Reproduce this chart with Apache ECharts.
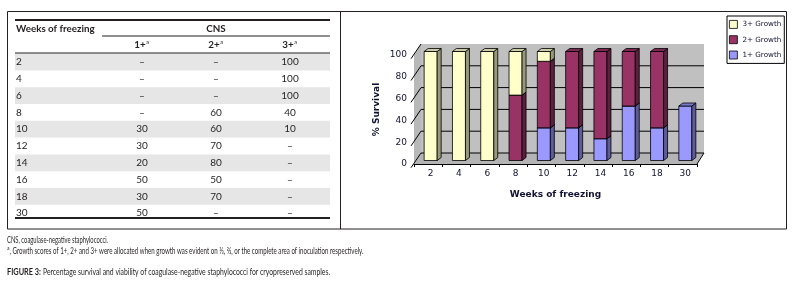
<!DOCTYPE html>
<html>
<head>
<meta charset="utf-8">
<script src="https://cdn.jsdelivr.net/npm/echarts@6/dist/echarts.min.js"></script>
<style>
html,body{margin:0;padding:0;background:#fff}
#main{width:794px;height:284px}
</style>
</head>
<body>
<div id="main"></div>
<script>
// weeks of freezing (table rows and chart categories)
var weeks = ['2', '4', '6', '8', '10', '12', '14', '16', '18', '30'];
// table columns, null is shown as a dash
var tab1 = [null, null, null, null, 30, 30, 20, 50, 30, 50];
var tab2 = [null, null, null, 60, 60, 70, 80, 50, 70, null];
var tab3 = [100, 100, 100, 40, 10, null, null, null, null, null];
// values as drawn in the bar chart
var g1 = [0, 0, 0, 0, 30, 30, 20, 50, 30, 50];
var g2 = [0, 0, 0, 60, 61, 70, 80, 50, 70, 0];
var g3 = [100, 100, 100, 40, 9, 0, 0, 0, 0, 0];
var yTicks = [0, 20, 40, 60, 80, 100];
var seriesNames = ['1+ Growth', '2+ Growth', '3+ Growth'];

var TF = 'Lato, "Open Sans", sans-serif';
var CF = '"DejaVu Sans", Verdana, sans-serif';
var ink = '#231f20';
var WD = [7, -11];   // wall depth
var BD = [4, -3];    // bar depth
var BO = [2.5, -3.5]; // bar offset from front plane

var ctx = document.createElement('canvas').getContext('2d');
function textW(font, s) { ctx.font = font; return ctx.measureText(s).width; }

function txt(s, x, y, align, size, bold, extra) {
    var el = {
        type: 'text', x: x, y: y, silent: true,
        style: {text: s, fill: ink, align: align, verticalAlign: 'middle',
                fontFamily: TF, fontSize: size, fontWeight: bold ? 'bold' : 'normal'}
    };
    if (extra) for (var k in extra) el[k] = extra[k];
    return el;
}

var gr = [];
// outer frame and divider
gr.push({type: 'rect', shape: {x: 7.5, y: 11.5, width: 779, height: 217.5}, style: {fill: 'none', stroke: ink, lineWidth: 1}});
gr.push({type: 'line', shape: {x1: 340.5, y1: 11.5, x2: 340.5, y2: 229}, style: {stroke: ink, lineWidth: 1}});

// table
var colX = [142, 216, 290];
var rowY0 = 62, rowH = 16.8;
for (var r = 0; r < weeks.length; r++) {
    var cy = rowY0 + r * rowH;
    if (r % 2 === 0) gr.push({type: 'rect', shape: {x: 15, y: cy - rowH / 2, width: 315, height: rowH}, style: {fill: '#e6e6e7'}});
}
gr.push({type: 'rect', shape: {x: 15, y: 19, width: 315, height: 2}, style: {fill: ink}});
gr.push({type: 'rect', shape: {x: 102, y: 35.5, width: 228, height: 1}, style: {fill: ink}});
gr.push({type: 'rect', shape: {x: 15, y: 52.5, width: 315, height: 1}, style: {fill: ink}});
gr.push({type: 'rect', shape: {x: 15, y: 217, width: 315, height: 2}, style: {fill: ink}});
gr.push(txt('Weeks of freezing', 16, 29, 'left', 9.8, true));
gr.push(txt('CNS', 216, 29, 'center', 9.8, true));
['1+', '2+', '3+'].forEach(function (h, c) {
    var w = textW('bold 9.8px ' + TF, h);
    gr.push(txt(h, colX[c] - 2, 45, 'center', 9.8, true));
    gr.push(txt('a', colX[c] - 2 + w / 2 + 0.5, 42.5, 'left', 5.5, false));
});
for (var r2 = 0; r2 < weeks.length; r2++) {
    var yy = rowY0 + r2 * rowH;
    gr.push(txt(weeks[r2], 16, yy, 'left', 10, false));
    [tab1, tab2, tab3].forEach(function (col, c) {
        gr.push(txt(col[r2] == null ? '–' : String(col[r2]), colX[c], yy, 'center', 10, false));
    });
}

// footnotes and caption, condensed to fit their widths
function fitted(s, x, y, size, bold, width) {
    var f = (bold ? 'bold ' : '') + size + 'px ' + TF;
    var sc = width / textW(f, s);
    return txt(s, x, y, 'left', size, bold, {scaleX: sc});
}
var fn1 = 'CNS, coagulase-negative staphylococci.';
var fn2 = ', Growth scores of 1+, 2+ and 3+ were allocated when growth was evident on ⅓, ⅔, or the complete area of inoculation respectively.';
gr.push(fitted(fn1, 7, 240, 8.5, false, 101));
gr.push(txt('a', 7, 248.5, 'left', 5, false));
gr.push(fitted(fn2, 9.5, 251, 8.5, false, 354));
var capB = 'FIGURE 3:';
var capR = 'Percentage survival and viability of coagulase-negative staphylococci for cryopreserved samples.';
gr.push(fitted(capB, 7, 272, 9.5, true, 34));
gr.push(fitted(capR, 43, 272, 9.5, false, 287));

function renderWalls(params, api) {
    var cs = params.coordSys;
    var L = cs.x, T = cs.y, R = cs.x + cs.width, B = cs.y + cs.height;
    var dx = WD[0], dy = WD[1];
    var ch = [];
    ch.push({type: 'polygon', shape: {points: [[L, B], [L + dx, B + dy], [L + dx, T + dy], [L, T]]}, style: {fill: '#b8b8b8'}});
    ch.push({type: 'rect', shape: {x: L + dx, y: T + dy, width: R - L, height: B - T}, style: {fill: '#c0c0c0'}});
    ch.push({type: 'polygon', shape: {points: [[L, B], [R, B], [R + dx, B + dy], [L + dx, B + dy]]}, style: {fill: '#b4b4b4'}});
    yTicks.forEach(function (v) {
        var y = api.coord([0, v])[1];
        if (v < 100) ch.push({type: 'line', shape: {x1: L + dx, y1: y + dy, x2: R + dx, y2: y + dy}, style: {stroke: '#000', lineWidth: 1}});
        ch.push({type: 'line', shape: {x1: L - 3, y1: y + 3.7, x2: L + dx, y2: y + dy}, style: {stroke: '#000', lineWidth: 1}});
    });
    ch.push({type: 'line', shape: {x1: R, y1: B, x2: R + dx, y2: B + dy}, style: {stroke: '#000', lineWidth: 1}});
    return {type: 'group', children: ch};
}

function makeBar(name, lo, hi, cols, z) {
    return {
        type: 'custom', name: name, z: z,
        itemStyle: {color: cols[0]},
        encode: {x: 0, y: [1, 2]},
        data: weeks.map(function (w, i) { return [i, lo[i], hi[i]]; }),
        renderItem: function (params, api) {
            var i = api.value(0), a = api.value(1), b = api.value(2);
            if (!(b > a)) return null;
            var p0 = api.coord([i, a]), p1 = api.coord([i, b]);
            var w = api.size([1, 0])[0] * 0.46;
            var x = p0[0] - w / 2 + BO[0], yb = p0[1] + BO[1], yt = p1[1] + BO[1];
            var dx = BD[0], dy = BD[1];
            var st = {stroke: '#000', lineWidth: 0.8};
            return {type: 'group', children: [
                {type: 'rect', shape: {x: x, y: yt, width: w, height: yb - yt}, style: {fill: cols[0], stroke: st.stroke, lineWidth: st.lineWidth}},
                {type: 'polygon', shape: {points: [[x + w, yt], [x + w + dx, yt + dy], [x + w + dx, yb + dy], [x + w, yb]]}, style: {fill: cols[1], stroke: st.stroke, lineWidth: st.lineWidth}},
                {type: 'polygon', shape: {points: [[x, yt], [x + dx, yt + dy], [x + w + dx, yt + dy], [x + w, yt]]}, style: {fill: cols[2], stroke: st.stroke, lineWidth: st.lineWidth}}
            ]};
        }
    };
}

var top2 = g1.map(function (v, i) { return v + g2[i]; });
var top3 = top2.map(function (v, i) { return v + g3[i]; });
var zeros = weeks.map(function () { return 0; });

var chart = echarts.init(document.getElementById('main'));
chart.setOption({
    animation: false,
    backgroundColor: '#fff',
    grid: {left: 414, top: 55, width: 283, height: 109},
    legend: {
        orient: 'vertical', left: 727, top: 16, selectedMode: false,
        data: ['3+ Growth', '2+ Growth', '1+ Growth'],
        icon: 'rect', itemWidth: 8, itemHeight: 8, itemGap: 6.5,
        padding: [4, 3, 4, 2], borderColor: '#000', borderWidth: 1,
        itemStyle: {borderColor: '#000', borderWidth: 0.8},
        textStyle: {fontFamily: CF, fontSize: 7.2, color: '#111133'}
    },
    xAxis: {
        type: 'category', data: weeks, z: 10,
        name: 'Weeks of freezing', nameLocation: 'middle', nameGap: 26,
        nameTextStyle: {fontFamily: CF, fontSize: 9, fontWeight: 'bold', color: '#111133'},
        axisLine: {lineStyle: {color: '#000', width: 1}},
        axisTick: {show: true, length: 3, lineStyle: {color: '#000'}},
        axisLabel: {fontFamily: CF, fontSize: 9, color: '#111133', margin: 5, padding: [0, 0, 0, 5]}
    },
    yAxis: {
        type: 'value', min: 0, max: 100, interval: 20,
        name: '% Survival', nameLocation: 'middle', nameGap: 33,
        nameTextStyle: {fontFamily: CF, fontSize: 9, fontWeight: 'bold', color: '#111133'},
        axisLine: {show: false}, axisTick: {show: false}, splitLine: {show: false},
        axisLabel: {fontFamily: CF, fontSize: 9, color: '#111133', margin: 7, padding: [3, 0, 0, 0]}
    },
    series: [
        {type: 'custom', name: 'walls', z: 1, silent: true, encode: {x: 0, y: 1}, data: [[0, 0]], renderItem: renderWalls},
        makeBar(seriesNames[0], zeros, g1, ['#9999ff', '#5c5c99', '#7a7acc'], 3),
        makeBar(seriesNames[1], g1, top2, ['#993366', '#5c1f3d', '#7a2952'], 4),
        makeBar(seriesNames[2], top2, top3, ['#ffffcc', '#99997a', '#ccccaa'], 5)
    ],
    graphic: gr
});
</script>
</body>
</html>
